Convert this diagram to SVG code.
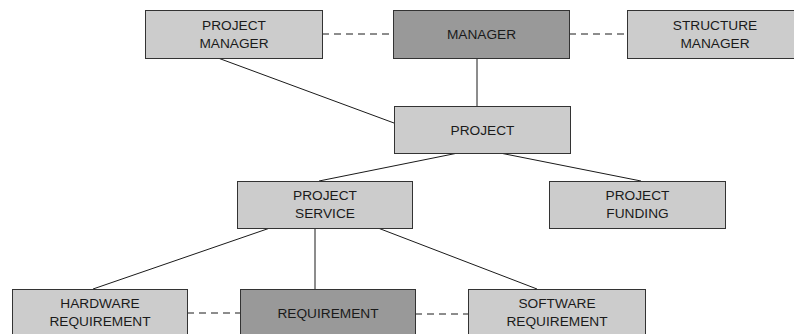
<svg xmlns="http://www.w3.org/2000/svg" width="794" height="334" viewBox="0 0 794 334">
  <style>
    .box { fill: #cccccc; stroke: #333333; stroke-width: 1; }
    .box.key { fill: #999999; }
    .lbl { font-family: "Liberation Sans", Arial, sans-serif; font-size: 13.7px; fill: #1a1a1a; text-anchor: middle; }
    .link { stroke: #1a1a1a; stroke-width: 1; fill: none; }
    .assoc { stroke: #1a1a1a; stroke-width: 1; fill: none; stroke-dasharray: 7 5; }
  </style>
  <rect width="794" height="334" fill="#ffffff"/>

  <g id="connectors">
    <line class="assoc" x1="322" y1="34" x2="393" y2="34"/>
    <line class="assoc" x1="569" y1="34" x2="627" y2="34"/>
    <line class="link" x1="218" y1="58" x2="394" y2="123"/>
    <line class="link" x1="477" y1="58" x2="477" y2="106"/>
    <line class="link" x1="458" y1="153" x2="319" y2="181"/>
    <line class="link" x1="500" y1="153" x2="641" y2="181"/>
    <line class="link" x1="270" y1="228" x2="93" y2="289"/>
    <line class="link" x1="315" y1="228" x2="315" y2="289"/>
    <line class="link" x1="378" y1="228" x2="537" y2="289"/>
    <line class="assoc" x1="187" y1="313" x2="240" y2="313"/>
    <line class="assoc" x1="415" y1="314" x2="468" y2="314"/>
  </g>

  <g id="project-manager">
    <rect class="box" x="145.5" y="10.5" width="177" height="48"/>
    <text class="lbl" x="234" y="30">PROJECT</text>
    <text class="lbl" x="234" y="48">MANAGER</text>
  </g>
  <g id="manager">
    <rect class="box key" x="393.5" y="10.5" width="176" height="48"/>
    <text class="lbl" x="481.5" y="39">MANAGER</text>
  </g>
  <g id="structure-manager">
    <rect class="box" x="627.5" y="10.5" width="175" height="48"/>
    <text class="lbl" x="715" y="30">STRUCTURE</text>
    <text class="lbl" x="715" y="48">MANAGER</text>
  </g>
  <g id="project">
    <rect class="box" x="394.5" y="106.5" width="176" height="47"/>
    <text class="lbl" x="482.5" y="135">PROJECT</text>
  </g>
  <g id="project-service">
    <rect class="box" x="237.5" y="181.5" width="175" height="47"/>
    <text class="lbl" x="325" y="200">PROJECT</text>
    <text class="lbl" x="325" y="218">SERVICE</text>
  </g>
  <g id="project-funding">
    <rect class="box" x="549.5" y="181.5" width="176" height="47"/>
    <text class="lbl" x="637.5" y="200">PROJECT</text>
    <text class="lbl" x="637.5" y="218">FUNDING</text>
  </g>
  <g id="hardware-requirement">
    <rect class="box" x="12.5" y="289.5" width="175" height="48"/>
    <text class="lbl" x="100" y="308">HARDWARE</text>
    <text class="lbl" x="100" y="326">REQUIREMENT</text>
  </g>
  <g id="requirement">
    <rect class="box key" x="240.5" y="289.5" width="175" height="48"/>
    <text class="lbl" x="328" y="318">REQUIREMENT</text>
  </g>
  <g id="software-requirement">
    <rect class="box" x="468.5" y="289.5" width="177" height="48"/>
    <text class="lbl" x="557" y="308">SOFTWARE</text>
    <text class="lbl" x="557" y="326">REQUIREMENT</text>
  </g>
</svg>
